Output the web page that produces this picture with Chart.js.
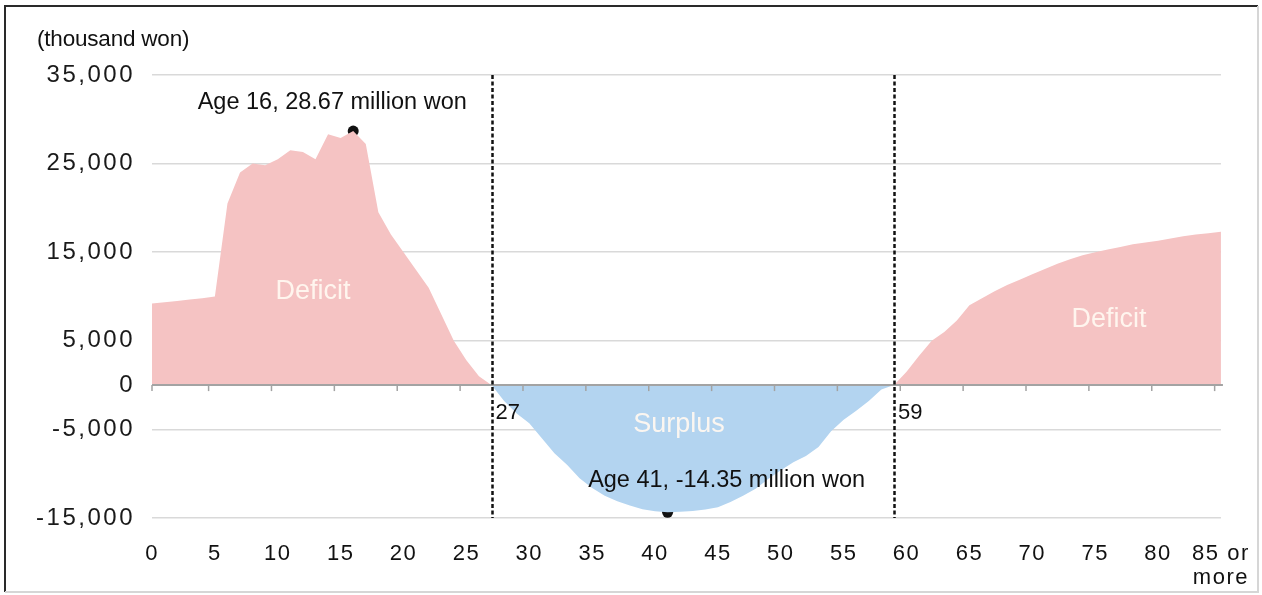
<!DOCTYPE html>
<html>
<head>
<meta charset="utf-8">
<script src="https://cdn.jsdelivr.net/npm/chart.js@4.4.1/dist/chart.umd.min.js"></script>
<style>
  html, body { margin: 0; padding: 0; background: #fff; }
  canvas { display: block; }
</style>
</head>
<body>
<canvas id="chartBalance" width="1262" height="595"></canvas>
<script>
const FONT = "'Liberation Sans', Arial, sans-serif";

// age 0 .. 85 ("85 or more")
const ages = [
  0, 1, 2, 3, 4, 5, 6, 7, 8, 9,
  10, 11, 12, 13, 14, 15, 16, 17, 18, 19,
  20, 21, 22, 23, 24, 25, 26, 27, 28, 29,
  30, 31, 32, 33, 34, 35, 36, 37, 38, 39,
  40, 41, 42, 43, 44, 45, 46, 47, 48, 49,
  50, 51, 52, 53, 54, 55, 56, 57, 58, 59,
  60, 61, 62, 63, 64, 65, 66, 67, 68, 69,
  70, 71, 72, 73, 74, 75, 76, 77, 78, 79,
  80, 81, 82, 83, 84, 85
];

// consumption minus labour income per person (thousand won)
const balance = [
  9200, 9350, 9500, 9650, 9800, 10000, 20500, 24000, 25000, 24800,
  25500, 26500, 26300, 25500, 28300, 27900, 28670, 27200, 19500, 17000,
  15000, 13000, 11000, 8000, 5000, 2800, 1000, 0, -1800, -3200,
  -4300, -6000, -7700, -9000, -10500, -11600, -12500, -13100, -13600, -14000,
  -14250, -14350, -14300, -14200, -14050, -13800, -13200, -12500, -11700, -10600,
  -9600, -8700, -8000, -7000, -5200, -3900, -2900, -1800, -500, 0,
  1500, 3300, 5000, 6000, 7300, 9000, 9800, 10600, 11300, 11900,
  12500, 13100, 13700, 14200, 14650, 15000, 15300, 15600, 15900, 16100,
  16300, 16550, 16800, 17000, 17150, 17300
];

const xTicks = [0, 5, 10, 15, 20, 25, 30, 35, 40, 45, 50, 55, 60, 65, 70, 75, 80, 85];
const yTicks = [35000, 25000, 15000, 5000, 0, -5000, -15000];

// ages where the balance changes sign
const crossAges = [27, 59];

const peakAges = [16, 41];
const peakValues = [28670, -14350];
const peakTexts = ['Age 16, 28.67 million won', 'Age 41, -14.35 million won'];

const PINK = '#f5c3c3';
const BLUE = '#b3d4f0';

// tick labels are set wide, so add letter spacing when drawing them
function spacedLabels(scale, spacing) {
  if (scale._spaced) return;
  scale._spaced = true;
  const orig = scale.drawLabels;
  scale.drawLabels = function (area) {
    const ctx = this.ctx;
    ctx.save();
    ctx.letterSpacing = spacing;
    orig.call(this, area);
    ctx.restore();
  };
}

const overlay = {
  id: 'overlay',
  afterDatasetsDraw(chart) {
    const { ctx, chartArea, scales: { x, y } } = chart;
    const y0 = y.getPixelForValue(0);

    // zero axis with small ticks between age groups
    ctx.save();
    ctx.strokeStyle = '#a3a3a3';
    ctx.lineWidth = 2;
    ctx.beginPath();
    ctx.moveTo(chartArea.left, y0);
    ctx.lineTo(chartArea.right + 2, y0);
    ctx.stroke();
    ctx.lineWidth = 1.5;
    xTicks.forEach(v => {
      const px = x.getPixelForValue(v === 0 ? 0 : v - 0.5);
      ctx.beginPath();
      ctx.moveTo(px, y0);
      ctx.lineTo(px, y0 + 6);
      ctx.stroke();
    });

    // dashed lines where the balance turns
    ctx.strokeStyle = '#111';
    ctx.lineWidth = 2.5;
    ctx.setLineDash([4, 2.5]);
    crossAges.forEach(a => {
      const px = Math.round(x.getPixelForValue(a)) + 0.5;
      ctx.beginPath();
      ctx.moveTo(px, chartArea.top);
      ctx.lineTo(px, chartArea.bottom);
      ctx.stroke();
    });
    ctx.setLineDash([]);

    ctx.fillStyle = '#111';
    ctx.font = '22px ' + FONT;
    ctx.textAlign = 'left';
    ctx.textBaseline = 'middle';
    crossAges.forEach(a => {
      ctx.fillText(String(a), x.getPixelForValue(a) + 4, y0 + 28);
    });

    // peak annotations
    ctx.font = '23.5px ' + FONT;
    ctx.textAlign = 'center';
    const offs = [[-21, -29], [59, -32]];
    peakAges.forEach((a, i) => {
      const px = x.getPixelForValue(a);
      const py = y.getPixelForValue(peakValues[i]);
      ctx.fillText(peakTexts[i], px + offs[i][0], py + offs[i][1]);
    });

    // region names
    ctx.font = '27px ' + FONT;
    ctx.fillStyle = 'rgba(255,248,240,0.95)';
    ctx.fillText('Deficit', x.getPixelForValue(12.8), y.getPixelForValue(10600));
    ctx.fillText('Surplus', x.getPixelForValue(41.9), y.getPixelForValue(-4400));
    ctx.fillText('Deficit', x.getPixelForValue(76.1), y.getPixelForValue(7350));
    ctx.restore();
  },
  afterDraw(chart) {
    const { ctx, width, height } = chart;
    ctx.save();
    ctx.fillStyle = '#111';
    ctx.font = '22.5px ' + FONT;
    ctx.textAlign = 'left';
    ctx.textBaseline = 'middle';
    ctx.letterSpacing = '-0.2px';
    ctx.fillText('(thousand won)', 37, 40);

    // frame
    ctx.lineWidth = 2;
    ctx.strokeStyle = '#2a2a2a';
    ctx.beginPath();
    ctx.moveTo(5, height - 3);
    ctx.lineTo(5, 6);
    ctx.lineTo(width - 4, 6);
    ctx.stroke();
    ctx.strokeStyle = '#d6d6d6';
    ctx.beginPath();
    ctx.moveTo(width - 4, 6);
    ctx.lineTo(width - 4, height - 3);
    ctx.lineTo(5, height - 3);
    ctx.stroke();
    ctx.restore();
  }
};

new Chart(document.getElementById('chartBalance'), {
  type: 'line',
  data: {
    labels: ages,
    datasets: [
      {
        data: ages.map((a, i) => ({ x: a, y: balance[i] })),
        borderWidth: 0,
        pointRadius: 0,
        tension: 0,
        fill: { target: 'origin', above: PINK, below: BLUE }
      },
      {
        type: 'scatter',
        data: peakAges.map((a, i) => ({ x: a, y: peakValues[i] })),
        pointRadius: 5.5,
        pointBackgroundColor: '#111',
        pointBorderWidth: 0
      }
    ]
  },
  options: {
    responsive: false,
    animation: false,
    layout: { padding: { top: 75, right: 40, left: 0, bottom: 0 } },
    plugins: { legend: { display: false }, tooltip: { enabled: false } },
    scales: {
      x: {
        type: 'linear',
        min: 0,
        max: 85,
        grid: { display: false },
        border: { display: false },
        afterBuildTicks: s => { s.ticks = xTicks.map(v => ({ value: v })); },
        afterFit: s => { s.height = 77; spacedLabels(s, '1.5px'); },
        ticks: {
          autoSkip: false,
          maxRotation: 0,
          padding: 16,
          color: '#111',
          font: { family: FONT, size: 22, lineHeight: 1.1 },
          callback: v => v === 85 ? ['85 or', 'more'] : String(v)
        }
      },
      y: {
        min: -15000,
        max: 35000,
        afterBuildTicks: s => { s.ticks = yTicks.map(v => ({ value: v })); },
        afterFit: s => { s.width = 152; spacedLabels(s, '2.5px'); },
        grid: {
          drawTicks: false,
          color: c => c.tick && c.tick.value === 0 ? 'rgba(0,0,0,0)' : '#d9d9d9',
          lineWidth: 1.5
        },
        border: { display: false },
        ticks: {
          padding: 17,
          color: '#1a1a1a',
          font: { family: FONT, size: 24 },
          callback: v => v.toLocaleString('en-US')
        }
      }
    }
  },
  plugins: [overlay]
});
</script>
</body>
</html>
